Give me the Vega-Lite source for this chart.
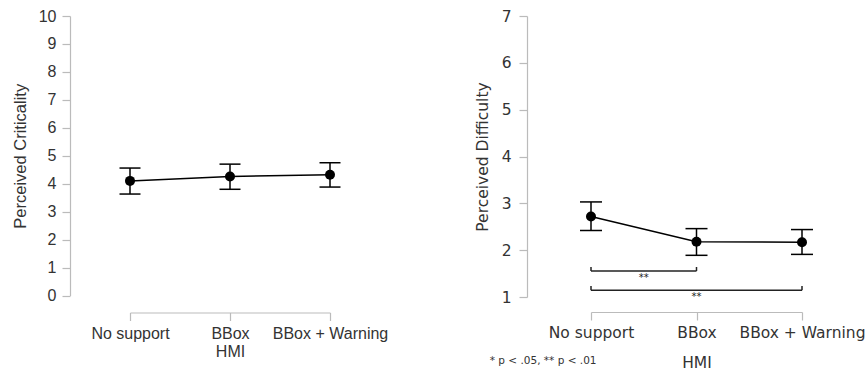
{
  "$schema": "https://vega.github.io/schema/vega-lite/v6.json",
  "background": "white",
  "padding": {"left": 12, "top": 8, "right": 5, "bottom": 5},
  "spacing": 87,
  "config": {"view": {"stroke": null}},
  "datasets": {
    "crit": [
      {"idx": 0, "HMI": "No support", "mean": 4.1, "lo": 3.63, "hi": 4.56},
      {"idx": 1, "HMI": "BBox", "mean": 4.26, "lo": 3.8, "hi": 4.7},
      {"idx": 2, "HMI": "BBox + Warning", "mean": 4.32, "lo": 3.88, "hi": 4.75}
    ],
    "diff": [
      {"idx": 0, "HMI": "No support", "mean": 2.72, "lo": 2.42, "hi": 3.03},
      {"idx": 1, "HMI": "BBox", "mean": 2.18, "lo": 1.89, "hi": 2.46},
      {"idx": 2, "HMI": "BBox + Warning", "mean": 2.17, "lo": 1.91, "hi": 2.44}
    ],
    "bracketH": [
      {"x1": 0, "x2": 1, "y": 1.555},
      {"x1": 0, "x2": 2, "y": 1.143}
    ],
    "bracketV": [
      {"x": 0, "y1": 1.555, "y2": 1.64},
      {"x": 1, "y1": 1.555, "y2": 1.64},
      {"x": 0, "y1": 1.143, "y2": 1.235},
      {"x": 2, "y1": 1.143, "y2": 1.235}
    ],
    "sig": [
      {"x": 0.5, "y": 1.41, "label": "**"},
      {"x": 1, "y": 1.0, "label": "**"}
    ],
    "note": [
      {"x": -0.96, "y": -0.37, "label": "* p < .05, ** p < .01"}
    ]
  },
  "hconcat": [
    {
      "width": 200,
      "height": 279.5,
      "data": {"name": "crit"},
      "encoding": {
        "x": {
          "field": "idx", "type": "quantitative", "title": "HMI",
          "scale": {"domain": [0, 2], "nice": false, "zero": false},
          "axis": {
            "title": "HMI", "values": [0, 1, 2], "grid": false, "offset": 17, "labelFlush": false, "labelOverlap": false, "labelBound": false,
            "labelExpr": "datum.value == 0 ? 'No support' : datum.value == 1 ? 'BBox' : 'BBox + Warning'",
            "domainColor": "#bbbbbb", "tickColor": "#bbbbbb", "tickSize": 8, "domainWidth": 1.2, "tickWidth": 1.2,
            "labelFont": "Liberation Sans", "labelFontSize": 16, "labelColor": "#333333", "labelPadding": 5,
            "titleFont": "Liberation Sans", "titleFontSize": 16, "titleFontWeight": "normal", "titleColor": "#333333", "titlePadding": 2
          }
        },
        "y": {
          "field": "mean", "type": "quantitative", "title": "Perceived Criticality",
          "scale": {"domain": [0, 10], "nice": false, "zero": false},
          "axis": {
            "title": "Perceived Criticality", "values": [0,1,2,3,4,5,6,7,8,9,10], "tickCount": 11, "grid": false, "offset": 60, "labelFlush": false, "labelOverlap": false,
            "domainColor": "#bbbbbb", "tickColor": "#bbbbbb", "tickSize": 8, "domainWidth": 1.2, "tickWidth": 1.2,
            "labelFont": "Liberation Sans", "labelFontSize": 16, "labelColor": "#333333", "labelPadding": 6,
            "titleFont": "Liberation Sans", "titleFontSize": 16.5, "titleFontWeight": "normal", "titleColor": "#333333", "titlePadding": 10
          }
        }
      },
      "layer": [
        {
          "mark": {"type": "line", "color": "black", "strokeWidth": 1.5}
        },
        {
          "mark": {"type": "rule", "color": "black", "strokeWidth": 1.5},
          "encoding": {
            "y": {"field": "lo", "type": "quantitative", "title": "Perceived Criticality", "scale": {"domain": [0, 10], "nice": false, "zero": false},
              "axis": {
                "title": "Perceived Criticality", "values": [0,1,2,3,4,5,6,7,8,9,10], "tickCount": 11, "grid": false, "offset": 60, "labelFlush": false, "labelOverlap": false,
                "domainColor": "#bbbbbb", "tickColor": "#bbbbbb", "tickSize": 8, "domainWidth": 1.2, "tickWidth": 1.2,
                "labelFont": "Liberation Sans", "labelFontSize": 16, "labelColor": "#333333", "labelPadding": 6,
                "titleFont": "Liberation Sans", "titleFontSize": 16.5, "titleFontWeight": "normal", "titleColor": "#333333", "titlePadding": 10
              }},
            "y2": {"field": "hi"}
          }
        },
        {
          "mark": {"type": "tick", "orient": "horizontal", "size": 21, "thickness": 1.5, "color": "black", "opacity": 1},
          "encoding": {
            "y": {"field": "lo", "type": "quantitative", "title": "Perceived Criticality", "scale": {"domain": [0, 10], "nice": false, "zero": false},
              "axis": {
                "title": "Perceived Criticality", "values": [0,1,2,3,4,5,6,7,8,9,10], "tickCount": 11, "grid": false, "offset": 60, "labelFlush": false, "labelOverlap": false,
                "domainColor": "#bbbbbb", "tickColor": "#bbbbbb", "tickSize": 8, "domainWidth": 1.2, "tickWidth": 1.2,
                "labelFont": "Liberation Sans", "labelFontSize": 16, "labelColor": "#333333", "labelPadding": 6,
                "titleFont": "Liberation Sans", "titleFontSize": 16.5, "titleFontWeight": "normal", "titleColor": "#333333", "titlePadding": 10
              }}
          }
        },
        {
          "mark": {"type": "tick", "orient": "horizontal", "size": 21, "thickness": 1.5, "color": "black", "opacity": 1},
          "encoding": {
            "y": {"field": "hi", "type": "quantitative", "title": "Perceived Criticality", "scale": {"domain": [0, 10], "nice": false, "zero": false},
              "axis": {
                "title": "Perceived Criticality", "values": [0,1,2,3,4,5,6,7,8,9,10], "tickCount": 11, "grid": false, "offset": 60, "labelFlush": false, "labelOverlap": false,
                "domainColor": "#bbbbbb", "tickColor": "#bbbbbb", "tickSize": 8, "domainWidth": 1.2, "tickWidth": 1.2,
                "labelFont": "Liberation Sans", "labelFontSize": 16, "labelColor": "#333333", "labelPadding": 6,
                "titleFont": "Liberation Sans", "titleFontSize": 16.5, "titleFontWeight": "normal", "titleColor": "#333333", "titlePadding": 10
              }}
          }
        },
        {
          "mark": {"type": "point", "filled": true, "size": 100, "color": "black", "opacity": 1}
        }
      ]
    },
    {
      "width": 211,
      "height": 281,
      "encoding": {
        "x": {
          "field": "idx", "type": "quantitative", "title": "HMI",
          "scale": {"domain": [0, 2], "nice": false, "zero": false},
          "axis": {
            "title": "HMI", "values": [0, 1, 2], "grid": false, "offset": 15, "labelFlush": false, "labelOverlap": false, "labelBound": false,
            "labelExpr": "datum.value == 0 ? 'No support' : datum.value == 1 ? 'BBox' : 'BBox + Warning'",
            "domainColor": "#bbbbbb", "tickColor": "#bbbbbb", "tickSize": 8, "domainWidth": 1.2, "tickWidth": 1.2,
            "labelFont": "DejaVu Sans", "labelFontSize": 15.5, "labelColor": "#333333", "labelPadding": 5.5,
            "titleFont": "DejaVu Sans", "titleFontSize": 15.5, "titleFontWeight": "normal", "titleColor": "#333333", "titlePadding": 14
          }
        },
        "y": {
          "field": "mean", "type": "quantitative", "title": "Perceived Difficulty",
          "scale": {"domain": [1, 7], "nice": false, "zero": false},
          "axis": {
            "title": "Perceived Difficulty", "values": [1,2,3,4,5,6,7], "grid": false, "offset": 64, "labelFlush": false, "labelOverlap": false,
            "domainColor": "#bbbbbb", "tickColor": "#bbbbbb", "tickSize": 8, "domainWidth": 1.2, "tickWidth": 1.2,
            "labelFont": "DejaVu Sans", "labelFontSize": 15.5, "labelColor": "#333333", "labelPadding": 8,
            "titleFont": "DejaVu Sans", "titleFontSize": 15.5, "titleFontWeight": "normal", "titleColor": "#333333", "titlePadding": 11
          }
        }
      },
      "layer": [
        {
          "data": {"name": "diff"},
          "mark": {"type": "line", "color": "black", "strokeWidth": 1.5}
        },
        {
          "data": {"name": "diff"},
          "mark": {"type": "rule", "color": "black", "strokeWidth": 1.5},
          "encoding": {
            "y": {"field": "lo", "type": "quantitative", "title": "Perceived Difficulty", "scale": {"domain": [1, 7], "nice": false, "zero": false},
              "axis": {
                "title": "Perceived Difficulty", "values": [1,2,3,4,5,6,7], "grid": false, "offset": 64, "labelFlush": false, "labelOverlap": false,
                "domainColor": "#bbbbbb", "tickColor": "#bbbbbb", "tickSize": 8, "domainWidth": 1.2, "tickWidth": 1.2,
                "labelFont": "DejaVu Sans", "labelFontSize": 15.5, "labelColor": "#333333", "labelPadding": 8,
                "titleFont": "DejaVu Sans", "titleFontSize": 15.5, "titleFontWeight": "normal", "titleColor": "#333333", "titlePadding": 11
              }},
            "y2": {"field": "hi"}
          }
        },
        {
          "data": {"name": "diff"},
          "mark": {"type": "tick", "orient": "horizontal", "size": 22, "thickness": 1.5, "color": "black", "opacity": 1},
          "encoding": {
            "y": {"field": "lo", "type": "quantitative", "title": "Perceived Difficulty", "scale": {"domain": [1, 7], "nice": false, "zero": false},
              "axis": {
                "title": "Perceived Difficulty", "values": [1,2,3,4,5,6,7], "grid": false, "offset": 64, "labelFlush": false, "labelOverlap": false,
                "domainColor": "#bbbbbb", "tickColor": "#bbbbbb", "tickSize": 8, "domainWidth": 1.2, "tickWidth": 1.2,
                "labelFont": "DejaVu Sans", "labelFontSize": 15.5, "labelColor": "#333333", "labelPadding": 8,
                "titleFont": "DejaVu Sans", "titleFontSize": 15.5, "titleFontWeight": "normal", "titleColor": "#333333", "titlePadding": 11
              }}
          }
        },
        {
          "data": {"name": "diff"},
          "mark": {"type": "tick", "orient": "horizontal", "size": 22, "thickness": 1.5, "color": "black", "opacity": 1},
          "encoding": {
            "y": {"field": "hi", "type": "quantitative", "title": "Perceived Difficulty", "scale": {"domain": [1, 7], "nice": false, "zero": false},
              "axis": {
                "title": "Perceived Difficulty", "values": [1,2,3,4,5,6,7], "grid": false, "offset": 64, "labelFlush": false, "labelOverlap": false,
                "domainColor": "#bbbbbb", "tickColor": "#bbbbbb", "tickSize": 8, "domainWidth": 1.2, "tickWidth": 1.2,
                "labelFont": "DejaVu Sans", "labelFontSize": 15.5, "labelColor": "#333333", "labelPadding": 8,
                "titleFont": "DejaVu Sans", "titleFontSize": 15.5, "titleFontWeight": "normal", "titleColor": "#333333", "titlePadding": 11
              }}
          }
        },
        {
          "data": {"name": "diff"},
          "mark": {"type": "point", "filled": true, "size": 100, "color": "black", "opacity": 1}
        },
        {
          "data": {"name": "bracketH"},
          "mark": {"type": "rule", "color": "#222222", "strokeWidth": 1.5},
          "encoding": {
            "x": {"field": "x1", "type": "quantitative", "title": "HMI", "scale": {"domain": [0, 2], "nice": false, "zero": false}},
            "x2": {"field": "x2"},
            "y": {"field": "y", "type": "quantitative", "title": "Perceived Difficulty", "scale": {"domain": [1, 7], "nice": false, "zero": false}}
          }
        },
        {
          "data": {"name": "bracketV"},
          "mark": {"type": "rule", "color": "#222222", "strokeWidth": 1.5},
          "encoding": {
            "x": {"field": "x", "type": "quantitative", "title": "HMI", "scale": {"domain": [0, 2], "nice": false, "zero": false}},
            "y": {"field": "y1", "type": "quantitative", "title": "Perceived Difficulty", "scale": {"domain": [1, 7], "nice": false, "zero": false}},
            "y2": {"field": "y2"}
          }
        },
        {
          "data": {"name": "sig"},
          "mark": {"type": "text", "font": "DejaVu Sans", "fontSize": 10, "color": "#222222", "align": "center", "baseline": "middle"},
          "encoding": {
            "x": {"field": "x", "type": "quantitative", "title": "HMI", "scale": {"domain": [0, 2], "nice": false, "zero": false}},
            "y": {"field": "y", "type": "quantitative", "title": "Perceived Difficulty", "scale": {"domain": [1, 7], "nice": false, "zero": false}},
            "text": {"field": "label"}
          }
        },
        {
          "data": {"name": "note"},
          "mark": {"type": "text", "font": "DejaVu Sans", "fontSize": 10.5, "color": "#333333", "align": "left", "baseline": "middle"},
          "encoding": {
            "x": {"field": "x", "type": "quantitative", "title": "HMI", "scale": {"domain": [0, 2], "nice": false, "zero": false}},
            "y": {"field": "y", "type": "quantitative", "title": "Perceived Difficulty", "scale": {"domain": [1, 7], "nice": false, "zero": false}},
            "text": {"field": "label"}
          }
        }
      ]
    }
  ]
}
